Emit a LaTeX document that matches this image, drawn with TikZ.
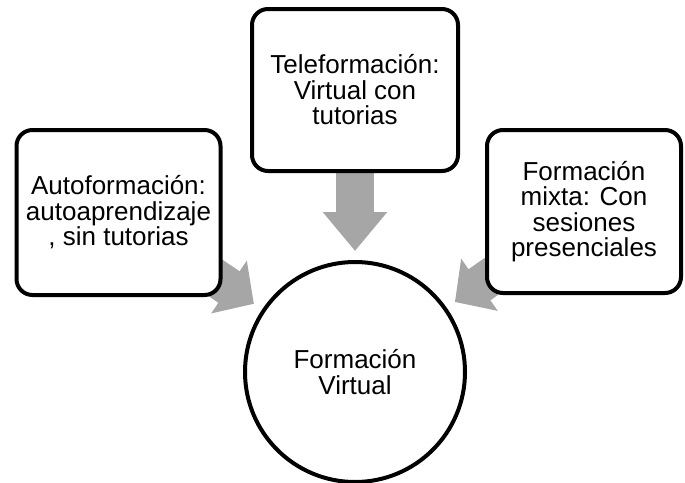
\documentclass[tikz,border=0pt]{standalone}
\usepackage{fontspec}
\setmainfont{Liberation Sans}
\usetikzlibrary{arrows.meta,calc,backgrounds}
\definecolor{arrowgray}{HTML}{A6A6A6}
\tikzset{
  box/.style={draw=black, line width=4pt, fill=white, rounded corners=16pt,
    align=center, inner sep=0pt, font=\fontsize{26}{25.5}\selectfont},
  hub/.style={draw=black, line width=4pt, fill=white, circle, minimum size=220pt,
    align=center, inner sep=0pt, font=\fontsize{26}{25.5}\selectfont},
  diagarrow/.style={draw=arrowgray, line width=38pt,
    -{Triangle[width=62pt,length=30pt]}},
  downarrow/.style={draw=arrowgray, line width=38pt,
    -{Triangle[width=62pt,length=39pt]}}
}
\begin{document}
\begin{tikzpicture}[x=1pt,y=-1pt]
\useasboundingbox (0,0) rectangle (685,482);
\node[box, minimum width=204pt, minimum height=165pt] (lbox) at (118.5,212.5)
  {Autoformación:\\autoaprendizaje\\, sin tutorias};
\node[box, minimum width=206pt, minimum height=162pt] (tbox) at (355,90)
  {Teleformación:\\Virtual con\\tutorias};
\node[box, minimum width=194pt, minimum height=163pt] (rbox) at (584,211.5)
  {Formación\\mixta: Con\\sesiones\\presenciales};
\node[hub] (circ) at (355,372) {Formación\\Virtual};
\begin{scope}[on background layer]
  \draw[diagarrow] (lbox.center) -- ($(circ.center)!122pt!(lbox.center)$);
  \draw[diagarrow] (rbox.center) -- ($(circ.center)!122pt!(rbox.center)$);
  \draw[downarrow] (tbox.center) -- ($(circ.center)!121pt!(tbox.center)$);
\end{scope}
\end{tikzpicture}
\end{document}
